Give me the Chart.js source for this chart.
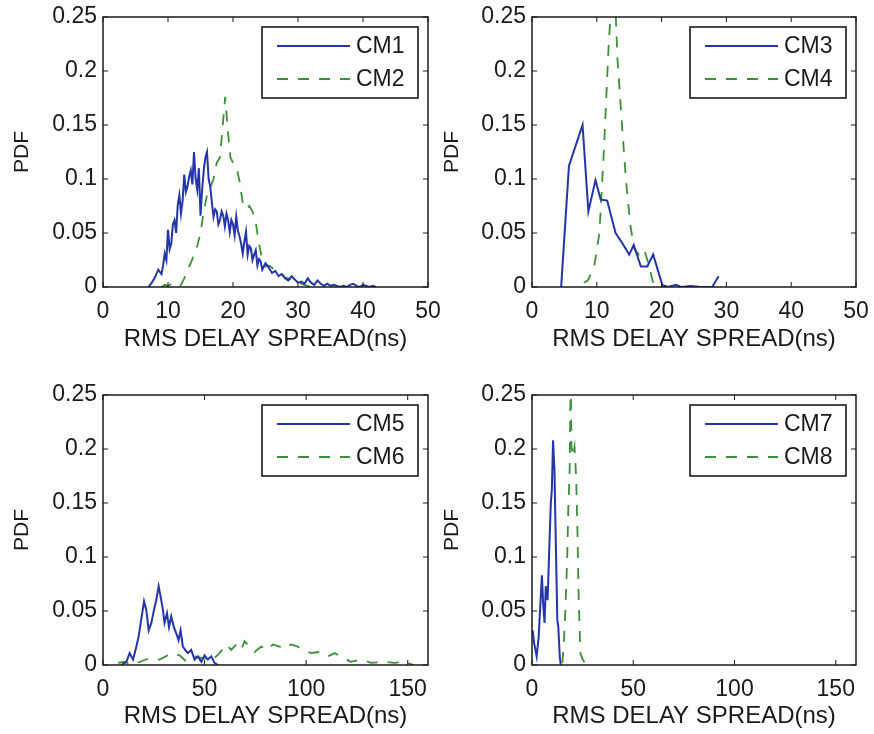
<!DOCTYPE html>
<html><head><meta charset="utf-8">
<script src="https://cdn.jsdelivr.net/npm/chart.js@4.4.1/dist/chart.umd.min.js"></script>
<style>
html,body{margin:0;padding:0;background:#fdfdfc;}
#wrap{position:relative;width:874px;height:734px;overflow:hidden;background:#fdfdfc;}
.panel{position:absolute;}
</style></head><body>
<div id="wrap">
<div class="panel" style="left:0;top:0;width:452px;height:360px"><canvas id="c1"></canvas></div>
<div class="panel" style="left:437px;top:0;width:437px;height:360px"><canvas id="c2"></canvas></div>
<div class="panel" style="left:0;top:367px;width:452px;height:367px"><canvas id="c3"></canvas></div>
<div class="panel" style="left:437px;top:367px;width:437px;height:367px"><canvas id="c4"></canvas></div>
</div>
<script>
// ---------- data ----------
const xTicksTop = [0, 10, 20, 30, 40, 50];
const xTicksBottom = [0, 50, 100, 150];
const yTicks = [0, 0.05, 0.1, 0.15, 0.2, 0.25];
const xLabel = 'RMS DELAY SPREAD(ns)';
const yLabel = 'PDF';
const seriesNames = ['CM1', 'CM2', 'CM3', 'CM4', 'CM5', 'CM6', 'CM7', 'CM8'];

const cm1X = [7,7.5,8,8.5,9,9.25,9.5,9.75,10,10.25,10.5,10.75,11,11.25,11.5,11.75,12,12.25,12.5,12.75,13,13.25,13.5,13.75,14,14.25,14.5,14.75,15,15.25,15.5,15.75,16,16.25,16.5,16.75,17,17.25,17.5,17.75,18,18.25,18.5,18.75,19,19.25,19.5,19.75,20,20.25,20.5,20.75,21,21.25,21.5,21.75,22,22.25,22.5,22.75,23,23.25,23.5,23.75,24,24.25,24.5,
  25,25.5,26,26.5,27,27.5,28,28.5,29,29.5,30,30.5,31,31.5,32,32.5,33,33.5,34,34.5,35,35.5,36,36.5,37,37.5,38,38.5,39,39.5,40,40.5,41,41.5,42];
const cm1Y = [0,0.004,0.009,0.016,0.012,0.02,0.031,0.025,0.053,0.035,0.04,0.058,0.062,0.05,0.076,0.085,0.068,0.08,0.104,0.088,0.093,0.102,0.108,0.095,0.125,0.1,0.09,0.11,0.066,0.09,0.108,0.12,0.125,0.1,0.093,0.078,0.065,0.072,0.07,0.058,0.062,0.07,0.066,0.056,0.068,0.062,0.051,0.062,0.058,0.048,0.065,0.052,0.047,0.04,0.031,0.042,0.051,0.03,0.038,0.036,0.025,0.03,0.034,0.02,0.026,0.024,0.016,
  0.022,0.018,0.013,0.015,0.01,0.012,0.008,0.006,0.01,0.007,0.004,0.005,0.003,0.008,0.004,0.002,0.006,0.003,0.001,0.003,0.001,0.002,0.001,0,0.001,0,0.002,0.003,0.001,0,0.002,0.001,0,0.001,0];

const cm2X = [9,9.5,10,10.5,11,11.5,12,12.5,13,13.5,14,14.5,15,15.5,16,16.5,17,17.5,18,18.4,18.8,19.2,19.6,20,20.5,21,21.5,22,22.5,23,23.5,24,24.5,25,25.5,26,26.5,27,27.5,28,28.5,29,29.5,30,30.5,31,31.5,32];
const cm2Y = [0,0.002,0.001,0.003,0.001,0,0.002,0.008,0.016,0.022,0.03,0.038,0.05,0.07,0.085,0.092,0.1,0.115,0.12,0.148,0.176,0.145,0.12,0.115,0.112,0.098,0.078,0.072,0.075,0.07,0.06,0.04,0.025,0.019,0.02,0.018,0.015,0.013,0.012,0.009,0.008,0.006,0.005,0.004,0.003,0.002,0.001,0];

const cm3X = [4.5,5.7,7.8,8.7,9.8,10.6,11.6,12.9,13.9,15.0,15.7,16.8,17.8,18.7,20.1,21,22.2,23,24.5,26,27.8,28.8];
const cm3Y = [0,0.112,0.150,0.070,0.099,0.081,0.080,0.050,0.041,0.030,0.039,0.019,0.019,0.030,0.002,0,0.002,0,0.001,0,0,0.010];

const cm4X = [8,8.6,9.6,10.4,11.1,11.8,12.3,12.8,13.2,13.9,14.5,15.2,15.8,16.5,17.3,18.1,18.6,19.1,20,21];
const cm4Y = [0.004,0.006,0.019,0.05,0.127,0.22,0.27,0.27,0.21,0.149,0.099,0.056,0.035,0.03,0.035,0.019,0.006,0,0.001,0];

const cm5X = [9,11.5,13.1,14.8,16.4,17.5,18.9,20.2,21.3,22.5,23.8,25.1,26.2,27.4,28.4,29.5,30.3,31.5,32.5,33.6,34.9,36.1,37.2,38.2,39.3,40.5,41.8,43.4,45.1,46.7,48.4,50,51.6,53.3,54.9,56.6];
const cm5Y = [0,0.003,0.011,0.005,0.017,0.026,0.043,0.059,0.051,0.032,0.039,0.051,0.060,0.073,0.063,0.051,0.039,0.048,0.035,0.045,0.035,0.029,0.023,0.032,0.017,0.014,0.011,0.014,0.005,0.008,0.003,0.009,0.005,0.008,0.002,0];

const cm6X = [7.4,10.7,13.9,17,22.5,27.9,32,34.4,37.7,40.5,45,50,54,57.4,60.7,63.1,65.6,68,69.7,72.1,74.6,77.9,81.1,83.6,86.9,89.3,92.6,95.9,98.4,102.5,105.7,110.7,114,117.2,122,127,132,138.5,143.4,148.4,153];
const cm6Y = [0.002,0.003,0,0.002,0.006,0.005,0.009,0.011,0.009,0.004,0.008,0.006,0.005,0.011,0.019,0.014,0.019,0.014,0.022,0.017,0.012,0.017,0.014,0.019,0.017,0.015,0.019,0.017,0.014,0.011,0.012,0.008,0.011,0.008,0.003,0.005,0.002,0.003,0.002,0.003,0];

const cm7X = [0.3,1.1,2.3,3.3,3.9,4.9,5.5,6.2,6.8,7.7,8.5,9.3,9.8,10.4,11.1,11.7,12.5,13.0,13.7,14.2];
const cm7Y = [0.032,0.02,0.008,0.026,0.048,0.083,0.057,0.039,0.073,0.06,0.106,0.150,0.162,0.208,0.18,0.119,0.042,0.035,0.008,0];

const cm8X = [15,15.8,16.6,17.4,17.9,18.6,19.1,19.5,20.2,21.0,21.8,22.5,23.1,23.9,24.8,26.1];
const cm8Y = [0.002,0.023,0.057,0.1,0.144,0.18,0.27,0.202,0.193,0.202,0.174,0.119,0.057,0.011,0.006,0.002];

// ---------- styles / layout ----------
const FONT = '"Liberation Sans", Arial, Helvetica, sans-serif';
const TXT = '#1a1a1a';
const BLUE = '#2335a8';
const GREEN = '#3a913a';
const DASH = [11, 10];

function pts(xs, ys) { return xs.map((x, i) => ({ x: x, y: ys[i] })); }

const panels = [
  { id: 'c1', names: [seriesNames[0], seriesNames[1]], data: [[cm1X, cm1Y], [cm2X, cm2Y]], xMax: 50, xTicks: xTicksTop,
    padTop: 17, padRight: 24, yAxisW: 103, xAxisH: 73, yTitlePad: 10, xTitlePad: 6 },
  { id: 'c2', names: [seriesNames[2], seriesNames[3]], data: [[cm3X, cm3Y], [cm4X, cm4Y]], xMax: 50, xTicks: xTicksTop,
    padTop: 17, padRight: 18, yAxisW: 95, xAxisH: 73, yTitlePad: 3, xTitlePad: 6 },
  { id: 'c3', names: [seriesNames[4], seriesNames[5]], data: [[cm5X, cm5Y], [cm6X, cm6Y]], xMax: 160, xTicks: xTicksBottom,
    padTop: 28, padRight: 24, yAxisW: 103, xAxisH: 69, yTitlePad: 10, xTitlePad: 3 },
  { id: 'c4', names: [seriesNames[6], seriesNames[7]], data: [[cm7X, cm7Y], [cm8X, cm8Y]], xMax: 160, xTicks: xTicksBottom,
    padTop: 28, padRight: 18, yAxisW: 95, xAxisH: 69, yTitlePad: 3, xTitlePad: 3 }
];

const framePlugin = {
  id: 'frame',
  afterDatasetsDraw(chart) {
    const { ctx, chartArea: a } = chart;
    const xs = chart.scales.x, ys = chart.scales.y;
    ctx.save();
    ctx.strokeStyle = '#1a1a1a';
    ctx.lineWidth = 1.5;
    ctx.strokeRect(a.left, a.top, a.right - a.left, a.bottom - a.top);
    ctx.lineWidth = 1;
    const L = 5;
    ctx.beginPath();
    xs.ticks.forEach(t => {
      const px = xs.getPixelForValue(t.value);
      ctx.moveTo(px, a.bottom); ctx.lineTo(px, a.bottom - L);
      ctx.moveTo(px, a.top); ctx.lineTo(px, a.top + L);
    });
    ys.ticks.forEach(t => {
      const py = ys.getPixelForValue(t.value);
      ctx.moveTo(a.left, py); ctx.lineTo(a.left + L, py);
      ctx.moveTo(a.right, py); ctx.lineTo(a.right - L, py);
    });
    ctx.stroke();
    ctx.restore();
  }
};

const legendPlugin = {
  id: 'boxLegend',
  afterDraw(chart) {
    const { ctx, chartArea: a } = chart;
    const w = 156, h = 71;
    const x0 = a.right - 10 - w, y0 = a.top + 10;
    ctx.save();
    ctx.fillStyle = '#ffffff';
    ctx.fillRect(x0, y0, w, h);
    ctx.lineWidth = 1.6;
    ctx.strokeStyle = '#1a1a1a';
    ctx.strokeRect(x0, y0, w, h);
    chart.data.datasets.forEach((ds, i) => {
      const yy = y0 + 19 + i * 33;
      ctx.beginPath();
      ctx.setLineDash(ds.borderDash || []);
      ctx.strokeStyle = ds.borderColor;
      ctx.lineWidth = 1.8;
      ctx.moveTo(x0 + 15, yy); ctx.lineTo(x0 + 88, yy);
      ctx.stroke();
      ctx.setLineDash([]);
      ctx.fillStyle = TXT;
      ctx.font = '23px ' + FONT;
      ctx.textBaseline = 'middle';
      ctx.textAlign = 'left';
      ctx.fillText(ds.label, x0 + 94, yy + 1);
    });
    ctx.restore();
  }
};

panels.forEach(p => {
  new Chart(document.getElementById(p.id), {
    type: 'line',
    data: {
      datasets: p.data.map((d, i) => ({
        label: p.names[i],
        data: pts(d[0], d[1]),
        borderColor: i === 0 ? BLUE : GREEN,
        borderWidth: i === 0 ? 2 : 1.8,
        borderDash: i === 0 ? [] : DASH,
        pointRadius: 0,
        tension: 0,
        fill: false
      }))
    },
    options: {
      responsive: true,
      maintainAspectRatio: false,
      devicePixelRatio: 1,
      animation: false,
      layout: { padding: { top: p.padTop, right: p.padRight, left: 0, bottom: 0 } },
      plugins: { legend: { display: false }, tooltip: { enabled: false } },
      scales: {
        x: {
          type: 'linear', min: 0, max: p.xMax,
          grid: { display: false, drawTicks: false },
          border: { display: false },
          afterBuildTicks: s => { s.ticks = p.xTicks.map(v => ({ value: v })); },
          afterFit: s => { s.height = p.xAxisH; s.paddingLeft = 0; s.paddingRight = 0; },
          ticks: { autoSkip: false, maxRotation: 0, padding: 11, color: TXT, font: { family: FONT, size: 23 },
                   callback: v => String(v) },
          title: { display: true, text: xLabel, color: TXT, font: { family: FONT, size: 24 },
                   padding: { top: 0, bottom: p.xTitlePad } }
        },
        y: {
          type: 'linear', min: 0, max: 0.25,
          grid: { display: false, drawTicks: false },
          border: { display: false },
          afterBuildTicks: s => { s.ticks = yTicks.map(v => ({ value: v })); },
          afterFit: s => { s.width = p.yAxisW; s.paddingTop = 0; s.paddingBottom = 0; },
          ticks: { autoSkip: false, padding: 6, color: TXT, font: { family: FONT, size: 23 },
                   callback: v => String(v) },
          title: { display: true, text: yLabel, color: TXT, font: { family: FONT, size: 21 },
                   padding: { top: p.yTitlePad, bottom: 0 } }
        }
      }
    },
    plugins: [framePlugin, legendPlugin]
  });
});
</script>
</body></html>
